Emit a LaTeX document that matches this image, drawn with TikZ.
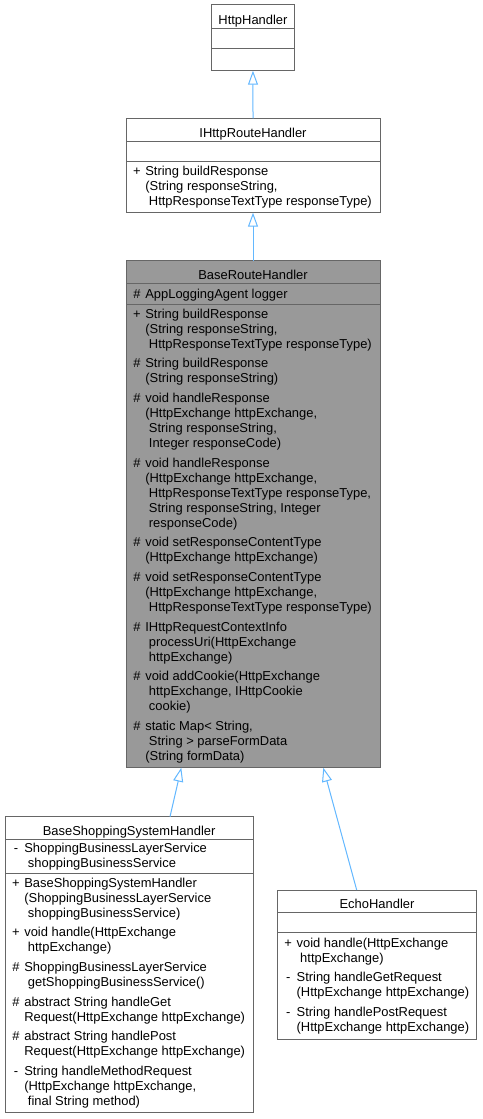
\documentclass[tikz,border=0pt]{standalone}
\usepackage{fontspec}
\setmainfont{Liberation Sans}
\usetikzlibrary{arrows.meta, positioning}

\definecolor{edgeblue}{HTML}{63B8FF}
\definecolor{boxline}{HTML}{666666}
\definecolor{curfill}{HTML}{999999}

% visibility mark and continuation indents
\newcommand{\vis}[1]{\makebox[9.4pt][l]{\makebox[6.2pt][c]{#1}}}
\newcommand{\mcont}{\hspace*{9.4pt}}
\newcommand{\mcontsp}{\hspace*{12.1pt}}
\newcommand{\topstrut}{\rule{0pt}{9pt}}
\newcommand{\botstrut}{\rule[-1.15pt]{0pt}{1.15pt}}

\tikzset{
  cmp/.style={draw=boxline, line width=0.75pt, fill=white, inner sep=0pt,
    outer sep=0pt, font=\fontsize{9.7}{11.25}\selectfont,
    text height=11.25pt, text depth=0pt},
  members/.style={anchor=west, align=left, inner sep=0pt,
    font=\fontsize{9.7}{11.25}\selectfont,
    execute at begin node=\topstrut, execute at end node=\botstrut},
  inh/.style={draw=edgeblue, line width=0.75pt,
    -{Triangle[open,length=10.5pt,width=7.5pt]}},
}

\begin{document}
\begin{tikzpicture}[x=0.75pt,y=-0.75pt]
\useasboundingbox (0,0) rectangle (482,1119);
\fill[white] (0,0) rectangle (482,1119);

% HttpHandler
\node[cmp, anchor=north west, minimum width=61.9pt, minimum height=17.5pt] (hh-t) at (211.7,5) {HttpHandler};
\node[cmp, anchor=north, minimum width=61.9pt, minimum height=15pt] (hh-a) at (hh-t.south) {};
\node[cmp, anchor=north, minimum width=61.9pt, minimum height=16.8pt] (hh-m) at (hh-a.south) {};

% IHttpRouteHandler
\node[cmp, anchor=north west, minimum width=190.5pt, minimum height=17.55pt] (ih-t) at (126,118.3) {IHttpRouteHandler};
\node[cmp, anchor=north, minimum width=190.5pt, minimum height=15pt] (ih-a) at (ih-t.south) {};
\node[cmp, anchor=north, minimum width=190.5pt, minimum height=38.25pt] (ih-m) at (ih-a.south) {};
\node[members] (ih-mt) at ([xshift=4.9pt]ih-m.west) {%
\vis{+}String buildResponse\\
\mcont(String responseString,\\
\mcontsp HttpResponseTextType responseType)};

% BaseRouteHandler (the class itself, shaded)
\node[cmp, fill=curfill, anchor=north west, minimum width=190.5pt, minimum height=16.7pt] (br-t) at (126,261) {BaseRouteHandler};
\node[cmp, fill=curfill, anchor=north, minimum width=190.5pt, minimum height=15.75pt] (br-a) at (br-t.south) {};
\node[cmp, fill=curfill, anchor=north, minimum width=190.5pt, minimum height=347.55pt] (br-m) at (br-a.south) {};
\node[members] (br-at) at ([xshift=4.9pt]br-a.west) {\vis{\#}AppLoggingAgent logger};
\node[members] (br-mt) at ([xshift=4.9pt]br-m.west) {%
\vis{+}String buildResponse\\
\mcont(String responseString,\\
\mcontsp HttpResponseTextType responseType)\\[3.5pt]
\vis{\#}String buildResponse\\
\mcont(String responseString)\\[3.5pt]
\vis{\#}void handleResponse\\
\mcont(HttpExchange httpExchange,\\
\mcontsp String responseString,\\
\mcontsp Integer responseCode)\\[3.5pt]
\vis{\#}void handleResponse\\
\mcont(HttpExchange httpExchange,\\
\mcontsp HttpResponseTextType responseType,\\
\mcontsp String responseString, Integer\\
\mcontsp responseCode)\\[3.5pt]
\vis{\#}void setResponseContentType\\
\mcont(HttpExchange httpExchange)\\[3.5pt]
\vis{\#}void setResponseContentType\\
\mcont(HttpExchange httpExchange,\\
\mcontsp HttpResponseTextType responseType)\\[3.5pt]
\vis{\#}IHttpRequestContextInfo\\
\mcontsp processUri(HttpExchange\\
\mcontsp httpExchange)\\[3.5pt]
\vis{\#}void addCookie(HttpExchange\\
\mcontsp httpExchange, IHttpCookie\\
\mcontsp cookie)\\[3.5pt]
\vis{\#}static Map< String,\\
\mcontsp String > parseFormData\\
\mcont(String formData)};

% BaseShoppingSystemHandler
\node[cmp, anchor=north west, minimum width=186.2pt, minimum height=16.95pt] (sh-t) at (5,816.7) {BaseShoppingSystemHandler};
\node[cmp, anchor=north, minimum width=186.2pt, minimum height=25.5pt] (sh-a) at (sh-t.south) {};
\node[cmp, anchor=north, minimum width=186.2pt, minimum height=179.55pt] (sh-m) at (sh-a.south) {};
\node[members] (sh-at) at ([xshift=4.9pt]sh-a.west) {%
\vis{-}ShoppingBusinessLayerService\\
\mcontsp shoppingBusinessService};
\node[members] (sh-mt) at ([xshift=4.9pt]sh-m.west) {%
\vis{+}BaseShoppingSystemHandler\\
\mcont(ShoppingBusinessLayerService\\
\mcontsp shoppingBusinessService)\\[3.5pt]
\vis{+}void handle(HttpExchange\\
\mcontsp httpExchange)\\[3.5pt]
\vis{\#}ShoppingBusinessLayerService\\
\mcontsp getShoppingBusinessService()\\[3.5pt]
\vis{\#}abstract String handleGet\\
\mcont Request(HttpExchange httpExchange)\\[3.5pt]
\vis{\#}abstract String handlePost\\
\mcont Request(HttpExchange httpExchange)\\[3.5pt]
\vis{-}String handleMethodRequest\\
\mcont(HttpExchange httpExchange,\\
\mcontsp final String method)};

% EchoHandler
\node[cmp, anchor=north west, minimum width=149.55pt, minimum height=17pt] (eh-t) at (277.3,890) {EchoHandler};
\node[cmp, anchor=north, minimum width=149.55pt, minimum height=15pt] (eh-a) at (eh-t.south) {};
\node[cmp, anchor=north, minimum width=149.55pt, minimum height=79.95pt] (eh-m) at (eh-a.south) {};
\node[members] (eh-mt) at ([xshift=4.9pt]eh-m.west) {%
\vis{+}void handle(HttpExchange\\
\mcontsp httpExchange)\\[3.5pt]
\vis{-}String handleGetRequest\\
\mcont(HttpExchange httpExchange)\\[3.5pt]
\vis{-}String handlePostRequest\\
\mcont(HttpExchange httpExchange)};

% Inheritance edges, tip at the base class.
\coordinate (sh-in) at (170,816.7);
\coordinate (br-out1) at (181.3,767.7);
\coordinate (eh-in) at (356.7,890);
\coordinate (br-out2) at (323.3,767.7);
\draw[inh] (ih-t.north) -- (hh-m.south);
\draw[inh] (br-t.north) -- (ih-m.south);
\draw[inh] (sh-in) -- (br-out1);
\draw[inh] (eh-in) -- (br-out2);
\end{tikzpicture}
\end{document}
